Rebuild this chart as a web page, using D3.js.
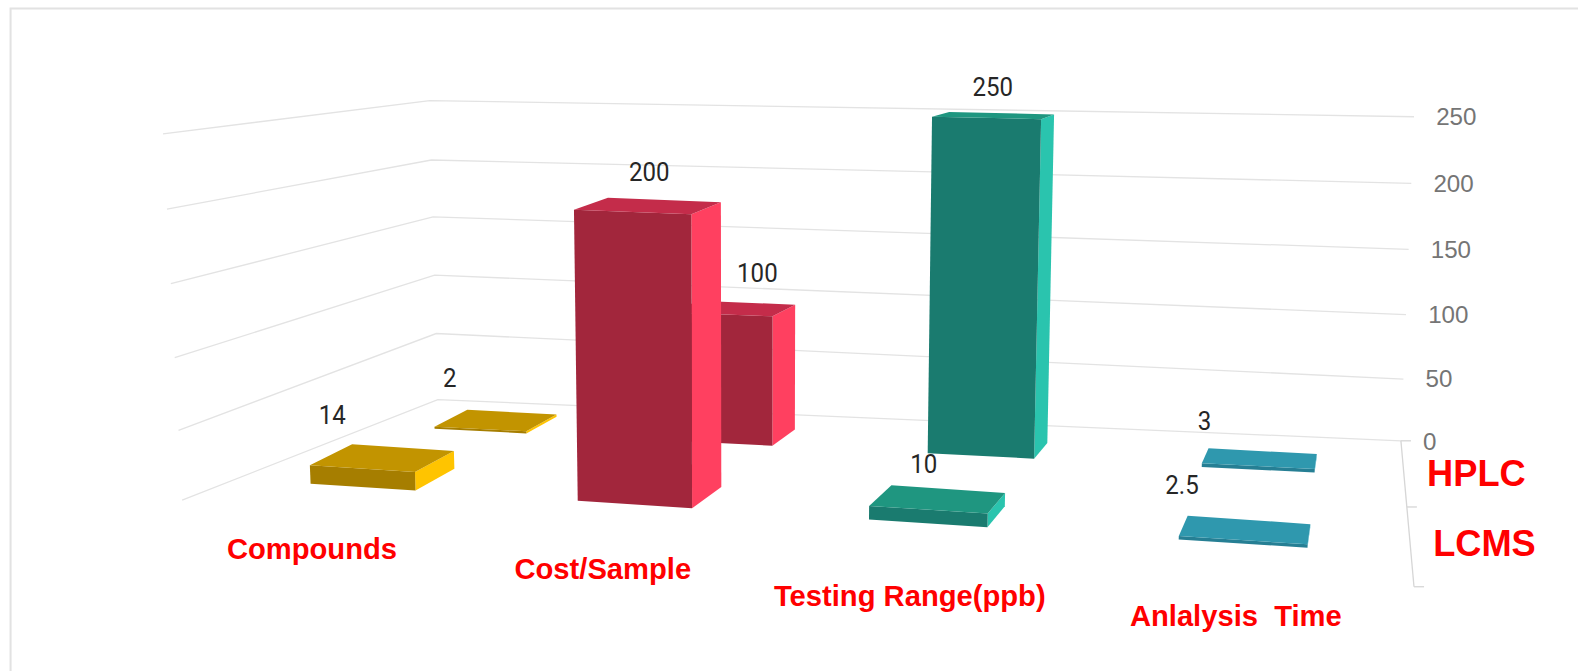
<!DOCTYPE html>
<html><head><meta charset="utf-8">
<script src="https://cdn.jsdelivr.net/npm/d3@7/dist/d3.min.js"></script>
<style>html,body{margin:0;padding:0;background:#fff;overflow:hidden}svg{display:block}</style>
</head><body><svg id="c" width="1578" height="671"></svg>
<script>
// ---- data ----
const categories = ["Compounds", "Cost/Sample", "Testing Range(ppb)", "Anlalysis  Time"];
const seriesNames = ["LCMS", "HPLC"];
const lcmsValues = [14, 200, 10, 2.5];
const hplcValues = [2, 100, 250, 3];
const valueTicks = [0, 50, 100, 150, 200, 250];

// ---- style ----
const palette = [
  {front:"#a67e00", top:"#c29400", side:"#ffc400"},
  {front:"#a2263c", top:"#c42c4a", side:"#ff4060"},
  {front:"#1a7b6f", top:"#1f9680", side:"#2ac4ae"},
  {front:"#267f94", top:"#2f98ae", side:"#37b4cf"}
];

// ---- perspective: floor quad of the plot box (FL, FR, BR, BL) ----
function quad(p){
  const [p0,p1,p2,p3]=p;
  const dx1=p1[0]-p2[0],dx2=p3[0]-p2[0],sx=p0[0]-p1[0]+p2[0]-p3[0];
  const dy1=p1[1]-p2[1],dy2=p3[1]-p2[1],sy=p0[1]-p1[1]+p2[1]-p3[1];
  const den=dx1*dy2-dx2*dy1;
  const g=(sx*dy2-dx2*sy)/den,h=(dx1*sy-sx*dy1)/den;
  const a=p1[0]-p0[0]+g*p1[0],b=p3[0]-p0[0]+h*p3[0],c=p0[0];
  const d=p1[1]-p0[1]+g*p1[1],e=p3[1]-p0[1]+h*p3[1],f=p0[1];
  return (u,w)=>{const q=g*u+h*w+1;return [(a*u+b*w+c)/q,(d*u+e*w+f)/q];};
}
const floorQ = quad([[181,497],[1405,583],[1392,438],[435,397]]);
// offset of full height (value 250) at the same four corners
const rise = [[-19,-364],[20,-400],[13,-322],[-8,-297]];
const yScale = d3.scalePow().exponent(1.03).domain([0,250]).range([0,1]);
const xBand = d3.scaleBand().domain(categories).range([0.0035,1.0155]).paddingInner(0.6).paddingOuter(0.3);
const zBand = d3.scaleBand().domain(seriesNames).range([0.07,0.99]).paddingInner(0.62).paddingOuter(0.2);
function project(u,w,value){
  const a=floorQ(u,w),t=yScale(value);
  const mix=k=>(rise[0][k]*(1-u)+rise[1][k]*u)*(1-w)+(rise[3][k]*(1-u)+rise[2][k]*u)*w;
  return [a[0]+mix(0)*t,a[1]+mix(1)*t];
}
// the picture's lanes are not perfectly even: per-row warp of the band edges
const warpDomain=[0,0.0794,0.1806,0.3324,0.4336,0.5854,0.6866,0.8384,0.9396,1];
const warps={
  LCMS:d3.scaleLinear().domain(warpDomain).range([0,0.08,0.188,0.345,0.449,0.60,0.695,0.839,0.93,1]),
  HPLC:d3.scaleLinear().domain(warpDomain).range([0,0.075,0.18,0.339,0.441,0.592,0.69,0.836,0.929,1])
};
const depthX=0.8, depthYFall=0.38;
function barPoint(name,u,wf,w,v){
  const U=warps[name](u),f=project(U,wf,v),b=project(U,w,v),sy=1-depthYFall*U;
  return [f[0]+depthX*(b[0]-f[0]),f[1]+sy*(b[1]-f[1])];
}
const line=d3.line().curve(d3.curveLinearClosed);
const open=d3.line();
const svg=d3.select("#c").append("g").attr("transform","scale(1.0064)");

// frame
svg.append("path").attr("d","M10.5,671V8.5H1578").attr("fill","none").attr("stroke","#e2e2e2").attr("stroke-width",2);

// grid
const backLeftLift=[0,9,8,6,2,0];
const grid=svg.append("g");
valueTicks.forEach((v,i)=>{
  const c=project(0,1,v);
  grid.append("path").attr("d",open([project(0,0,v),[c[0],c[1]-backLeftLift[i]],project(1,1,v)]))
    .attr("fill","none").attr("stroke","#e3e3e3").attr("stroke-width",1.3);
});
// depth axis on the right
const axisG=svg.append("g");
axisG.append("path").attr("d",open([project(1,1,0),project(1,0,0)])).attr("fill","none").attr("stroke","#d6d6d6").attr("stroke-width",1.3);
[1,0.47,0].forEach(w=>{
  const p=project(1,w,0);
  axisG.append("path").attr("d",open([p,[p[0]+10,p[1]]])).attr("fill","none").attr("stroke","#d6d6d6").attr("stroke-width",1.3);
});
// value axis labels
valueTicks.forEach(v=>{
  const p=project(1,1,v);
  axisG.append("text").attr("x",p[0]+22).attr("y",p[1]+(v===0?1:0)).attr("dy","0.35em")
    .attr("font-family","Liberation Sans").attr("font-size",24).attr("fill","#757575").text(v);
});

// bars, back row first
const series=[{name:"HPLC",values:hplcValues},{name:"LCMS",values:lcmsValues}];
const labelOffset={HPLC:[[-46,-42],[23,-35],[-1,-28],[-55,-37]],LCMS:[[-50,-43],[1,-34],[-14,-35],[-63,-45]]};
series.forEach(s=>{
  const g=svg.append("g");
  const w0=zBand(s.name),w1=w0+zBand.bandwidth(),P=(u,w,v)=>barPoint(s.name,u,w0,w,v);
  categories.forEach((cat,i)=>{
    const u0=xBand(cat),u1=u0+xBand.bandwidth(),v=s.values[i],c=palette[i];
    g.append("path").attr("d",line([P(u1,w0,0),P(u1,w1,0),P(u1,w1,v),P(u1,w0,v)])).attr("fill",c.side);
    g.append("path").attr("d",line([P(u0,w0,0),P(u1,w0,0),P(u1,w0,v),P(u0,w0,v)])).attr("fill",c.front);
    g.append("path").attr("d",line([P(u0,w0,v),P(u1,w0,v),P(u1,w1,v),P(u0,w1,v)])).attr("fill",c.top);
  });
});
// value labels, above everything
series.forEach(s=>{
  const w0=zBand(s.name),w=w0+zBand.bandwidth()/2;
  categories.forEach((cat,i)=>{
    const u=xBand(cat)+xBand.bandwidth()/2,v=s.values[i],p=barPoint(s.name,u,w0,w,v),o=labelOffset[s.name][i];
    svg.append("text").attr("transform",`translate(${p[0]+o[0]},${p[1]+o[1]}) scale(0.92,1)`)
      .attr("text-anchor","middle").attr("dy","0.35em")
      .attr("font-family","Roboto").attr("font-size",26).attr("fill","#262626").text(v);
  });
});

// red annotations
const catLabelPos=[[310,545],[599,565],[904,592],[1228,612]];
categories.forEach((cat,i)=>{
  svg.append("text").attr("x",catLabelPos[i][0]).attr("y",catLabelPos[i][1]).attr("dy","0.35em")
    .attr("text-anchor","middle").attr("font-family","Liberation Sans").attr("font-weight","bold")
    .attr("font-size",29).attr("fill","#ff0000").attr("xml:space","preserve").style("white-space","pre").text(cat);
});
const seriesLabelPos={HPLC:[1467,470],LCMS:[1475,540]};
seriesNames.forEach(n=>{
  svg.append("text").attr("x",seriesLabelPos[n][0]).attr("y",seriesLabelPos[n][1]).attr("dy","0.35em")
    .attr("text-anchor","middle").attr("font-family","Liberation Sans").attr("font-weight","bold")
    .attr("font-size",36).attr("fill","#ff0000").text(n);
});
</script></body></html>
